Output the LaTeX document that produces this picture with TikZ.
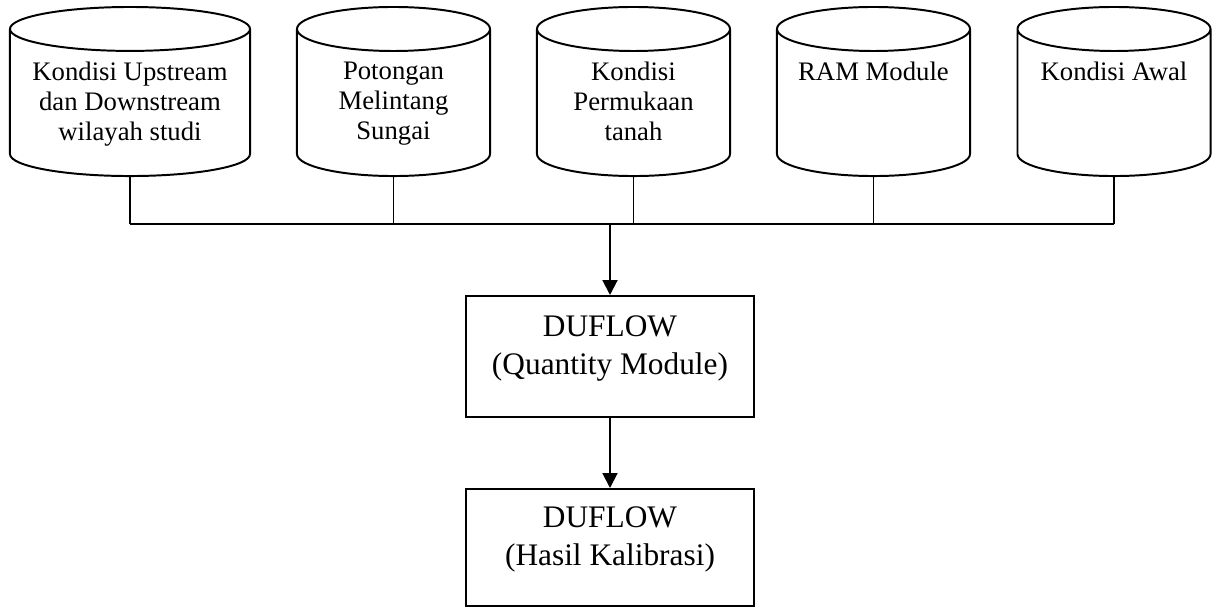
\documentclass[tikz,border=0pt]{standalone}
\usepackage{fontspec}
\setmainfont{Liberation Serif}
\usetikzlibrary{shapes.geometric,arrows.meta}
\begin{document}
\begin{tikzpicture}[
        x=0.025cm, y=-0.025cm,
        line width=1.4pt,
        db/.style={cylinder, shape border rotate=90, draw, anchor=shape center, text width=#1, minimum height=4.225cm, outer sep=0pt, inner sep=0pt},
        dbtext/.style={anchor=north, align=center, inner sep=0pt, font=\fontsize{19pt}{21.3pt}\selectfont},
        proc/.style={rectangle, draw, minimum width=7.2cm, align=center, inner sep=0pt, text depth=0.55cm, font=\fontsize{22.3pt}{27pt}\selectfont},
        arr/.style={-{Triangle[width=10.5pt,length=10.5pt]}}
    ]
    \useasboundingbox (0,0) rectangle (1212,608);
    % data sources
    \node[db=6cm, aspect=0.183] (c1) at (130,91.5) {};
    \node[db=4.825cm, aspect=0.228] (c2) at (393.5,91.5) {};
    \node[db=4.825cm, aspect=0.228] (c3) at (633.5,91.5) {};
    \node[db=4.825cm, aspect=0.228] (c4) at (873.5,91.5) {};
    \node[db=4.825cm, aspect=0.228] (c5) at (1114,91.5) {};
    \node[dbtext] (t1) at (130,61) {Kondisi Upstream\\dan Downstream\\wilayah studi};
    \node[dbtext] (t2) at (393.5,61) {Potongan\\Melintang\\Sungai};
    \node[dbtext] (t3) at (633.5,61) {Kondisi\\Permukaan\\tanah};
    \node[dbtext] (t4) at (873.5,61) {RAM Module};
    \node[dbtext] (t5) at (1114,61) {Kondisi Awal};
    % model
    \node[proc, minimum height=3.025cm] (duflow) at (610,356.5) {DUFLOW\\(Quantity Module)};
    \node[proc, minimum height=2.925cm] (hasil) at (610,547.5) {DUFLOW\\(Hasil Kalibrasi)};
    % connectors
    \coordinate (bus) at (610,224);
    \foreach \i in {1,...,5}
        \draw (c\i.south) -- (c\i.south |- bus);
    \draw (c1.south |- bus) -- (c5.south |- bus);
    \draw[arr] (bus) -- (duflow.north);
    \draw[arr] (duflow.south) -- (hasil.north);
\end{tikzpicture}
\end{document}
